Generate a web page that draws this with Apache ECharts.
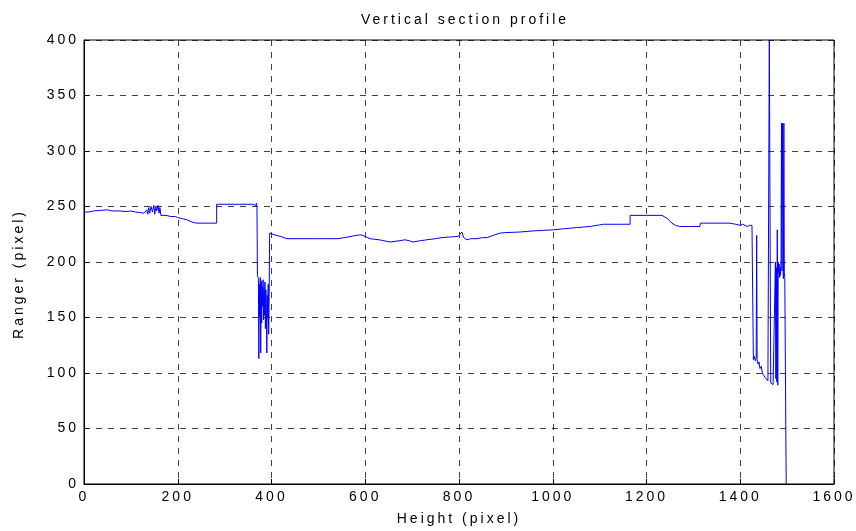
<!DOCTYPE html>
<html>
<head>
<meta charset="utf-8">
<script src="https://cdn.jsdelivr.net/npm/echarts@6/dist/echarts.min.js"></script>
<style>
html,body{margin:0;padding:0;background:#fff;}
#chart{width:856px;height:531px;}
</style>
</head>
<body>
<div id="chart"></div>
<script>
const titleText = 'Vertical section profile';
const xName = 'Height (pixel)';
const yName = 'Ranger (pixel)';
const xTicks = [0, 200, 400, 600, 800, 1000, 1200, 1400, 1600];
const yTicks = [0, 50, 100, 150, 200, 250, 300, 350, 400];

// Profile: height (x) and range (y)
const heights = [
  0,10,20,35,50,60,75,90,100,110,120,128,132,134,136,138,140,143,146,149,151,153,155,158,160,162,164,168,175,185,195,200,210,220,230,240,250,270,283,
  283,300,330,360,366,368,369,
  370,372,373,374,375,376,377,378,379,380,381,382,383,384,385,386,387,388,389,390,391,392,393,394,395,396,
  397,400,410,420,433,450,500,520,540,557,575,589,595,605,610,630,653,670,685,695,702,715,731,750,764,780,798,806,810,817,825,838,850,860,873,887,900,930,958,980,1001,1025,1051,1080,1108,1140,1165,
  1165,1200,1233,1245,1254,1262,1271,1290,1314,1315,1350,1378,1390,1400,1405,1410,1415,1420,1425,1427,
  1428,1430,1432,1434,1435,1436,1438,1440,1442,1445,1447,1450,1453,1456,1459,1461,1462,1464,1465,1467,1470,1472,1474,1475,1476,1477,1478,1479,1480,1481,1482,1483,1484,1485,1486,1487,1488,1489,1490,1491,1492,1493,1494,1495,1497,1498
];
const ranges = [
  245,245,246,246.5,247,246,246,245.5,246,245,244.5,244,243,247,243,249,244,250,245,251,243,250,246,251,244,249,242,242,242,241,241,240,239,238,236,235,235,235,235,
  252,252,252,252,251,253,249,
  188,185,113,180,150,186,118,183,145,178,160,184,148,176,152,182,140,175,160,118,170,150,180,135,170,226,
  226,225,224,223,221,221,221,221,221,222,223.5,224.5,224,222,221,220,218,219,220,219,218,219,220,221,222,222.5,223,227,222,220,221,221,222,222,224,226,226.5,227,228,228.5,229,230,231,232,234,234,234,
  242,242,242,239,235,233,232,232,232,235,235,235,234,233,234,233,232,233,233,232,
  112,115,111,113,224,112,108,110,104,106,100,98,96,95,93,92,400,400,91,90,89.5,90,89,200,95,195,92,229,89,200,190,198,186,195,188,200,325,192,325,325,185,325,190,186,186,0
];

const seriesData = heights.map((h, i) => [h, ranges[i]]);

const chart = echarts.init(document.getElementById('chart'), null, {renderer: 'canvas'});
function applySpacing() {
  try {
    document.querySelectorAll('#chart canvas').forEach(cv => {
      const ctx = cv.getContext('2d');
      if ('letterSpacing' in ctx) ctx.letterSpacing = '3px';
    });
  } catch (e) {}
}

const fontFamily = '"Liberation Sans", Arial, sans-serif';
const option = {
  animation: false,
  backgroundColor: '#ffffff',
  title: {
    text: titleText,
    left: 460, top: 8, textAlign: 'center',
    textStyle: {fontFamily, fontSize: 14, fontWeight: 'normal', color: '#000'}
  },
  grid: {left: 84, right: 22, top: 40, bottom: 47, show: true, borderColor: '#000', borderWidth: 1, backgroundColor: '#fff'},
  xAxis: {
    type: 'value', min: xTicks[0], max: xTicks[xTicks.length - 1], interval: 200,
    name: xName, nameLocation: 'middle', nameGap: 28,
    nameTextStyle: {fontFamily, fontSize: 14, color: '#000'},
    axisLine: {show: true, lineStyle: {color: '#000', width: 1}},
    axisTick: {show: true, inside: true, length: 5, lineStyle: {color: '#000'}},
    axisLabel: {fontFamily, fontSize: 14, color: '#000', margin: 6, formatter: v => String(v)},
    splitLine: {show: true, lineStyle: {color: '#000', type: [6, 6], width: 1, opacity: 0.75}}
  },
  yAxis: {
    type: 'value', min: yTicks[0], max: yTicks[yTicks.length - 1], interval: 50,
    name: yName, nameLocation: 'middle', nameGap: 58, nameRotate: 90,
    nameTextStyle: {fontFamily, fontSize: 14, color: '#000', padding: [0, 24, 0, 0]},
    axisLine: {show: true, lineStyle: {color: '#000', width: 1}},
    axisTick: {show: true, inside: true, length: 5, lineStyle: {color: '#000'}},
    axisLabel: {fontFamily, fontSize: 14, color: '#000', margin: 5, formatter: v => String(v)},
    splitLine: {show: true, lineStyle: {color: '#000', type: [6, 6], width: 1, opacity: 0.75}}
  },
  series: [{
    type: 'line',
    data: seriesData,
    showSymbol: false,
    symbol: 'none',
    clip: true,
    lineStyle: {color: '#0000ff', width: 1},
    itemStyle: {color: '#0000ff'}
  }]
};
applySpacing();
chart.setOption(option);
applySpacing();
chart.setOption(option, true);
</script>
</body>
</html>
